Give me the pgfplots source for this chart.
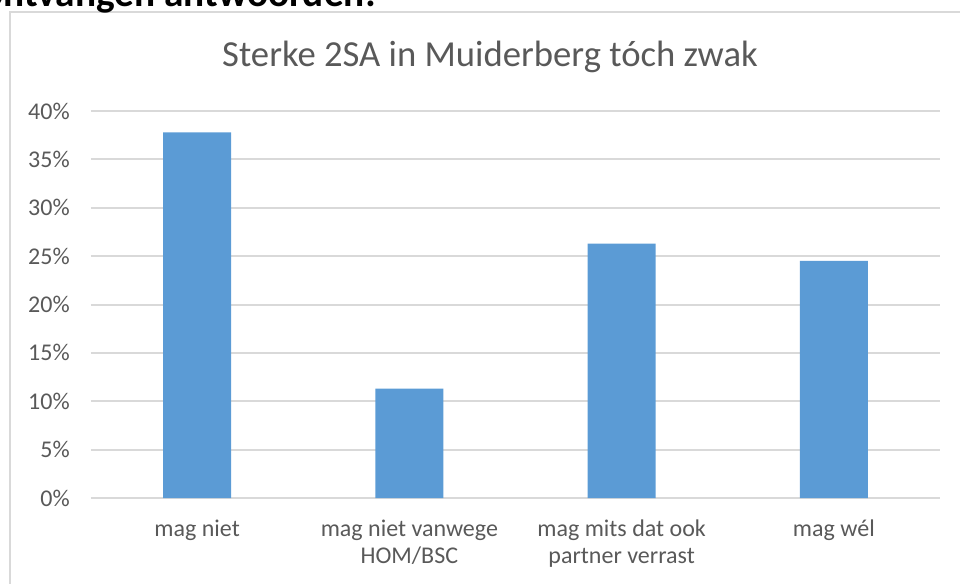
\documentclass[border=0pt]{standalone}
\usepackage{fontspec}
\setmainfont{Carlito}
\usepackage{pgfplots}
\pgfplotsset{compat=1.18}
\definecolor{barc}{HTML}{5B9BD5}
\definecolor{txt}{HTML}{595959}
\definecolor{gridc}{HTML}{D9D9D9}
\begin{document}
\begin{tikzpicture}[x=0.75pt,y=0.75pt]
\useasboundingbox (0,0) rectangle (960,583);
\draw[gridc, line width=1.5pt] (10,-10) -- (10,571) -- (970,571);
\node[anchor=base east, font=\bfseries\fontsize{29.5}{34}\selectfont, inner sep=0pt] at (376,576) {ontvangen antwoorden:};
\node[anchor=base, text=txt, font=\fontsize{27.5}{32}\selectfont, inner sep=0pt] at (490,516) {Sterke 2SA in Muiderberg tóch zwak};
\begin{axis}[
  at={(68.25pt,63.75pt)}, anchor=south west,
  scale only axis, width=636.75pt, height=290.25pt,
  ymin=0, ymax=40, xmin=-0.5, xmax=3.5,
  ytick={0,5,...,40},
  yticklabel={\pgfmathprintnumber{\tick}\%},
  xtick={0,1,2,3},
  xticklabels={mag niet,{mag niet vanwege\\HOM/BSC},{mag mits dat ook\\partner verrast},mag wél},
  ymajorgrids, grid style={gridc, line width=1.5pt},
  axis line style={draw=none},
  major tick length=0pt,
  /pgf/number format/assume math mode=true,
  yticklabel style={anchor=east, inner sep=0pt, xshift=-15.75pt, text=txt, font=\fontsize{18}{19.5}\selectfont},
  xticklabel style={anchor=north, align=center, inner sep=0pt, yshift=-16.5pt, text=txt, font=\fontsize{18}{20}\selectfont},
]
\addplot[ybar, bar width=51pt, fill=barc, draw=none] coordinates {(0,37.8) (1,11.3) (2,26.3) (3,24.5)};
\end{axis}
\end{tikzpicture}
\end{document}
